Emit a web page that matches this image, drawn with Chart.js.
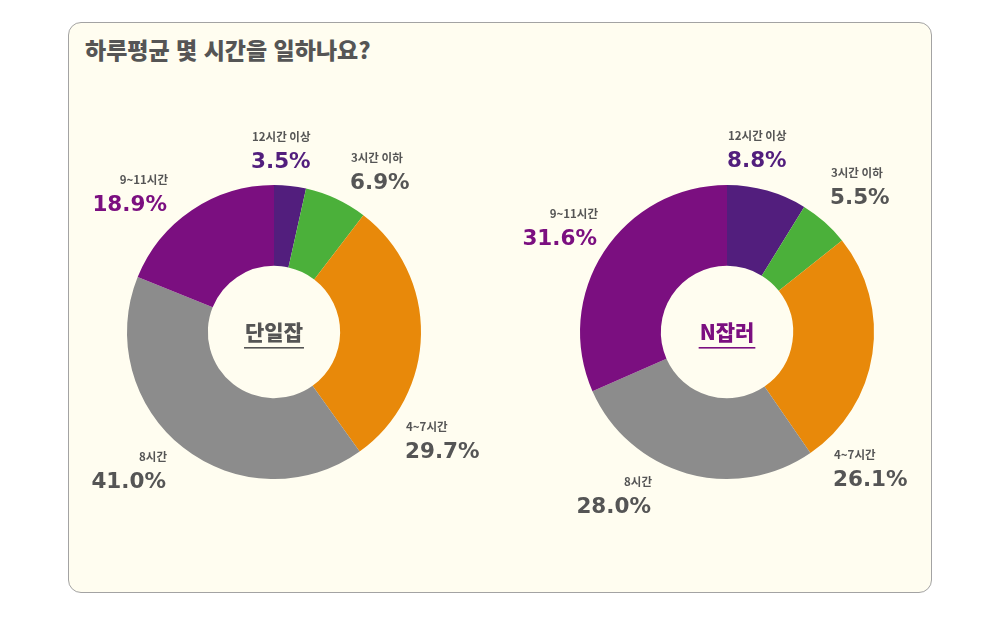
<!DOCTYPE html>
<html lang="ko">
<head>
<meta charset="utf-8">
<script src="https://cdn.jsdelivr.net/npm/chart.js@4"></script>
<style>
  html, body { margin: 0; padding: 0; background: #fff; }
  body { width: 1000px; height: 621px; position: relative; overflow: hidden; font-family: "Noto Sans CJK KR", sans-serif; }
  .card {
    position: absolute; left: 68px; top: 22px; width: 862px; height: 569px;
    background: #fffdf0; border: 1.5px solid #a3a3a3; border-radius: 13px;
  }
  .title {
    position: absolute; left: 85px; top: 32px; margin: 0;
    font: 900 23px "Noto Sans CJK KR", sans-serif; color: #555; letter-spacing: 0px;
  }
  canvas { position: absolute; left: 0; top: 0; }
</style>
</head>
<body>
<div class="card"></div>
<h1 class="title">하루평균 몇 시간을 일하나요?</h1>
<canvas id="single" width="1000" height="621"></canvas>
<canvas id="multi" width="1000" height="621"></canvas>
<script>
const categories = ['12시간 이상', '3시간 이하', '4~7시간', '8시간', '9~11시간'];
const singleJob = [3.5, 6.9, 29.7, 41.0, 18.9];
const multiJob = [8.8, 5.5, 26.1, 28.0, 31.6];

const sliceColors = ['#521e7d', '#4bb03a', '#e8890a', '#8c8c8c', '#7b0f80'];
const valueColors = ['#521e7d', '#555555', '#555555', '#555555', '#7b0f80'];

// label anchors, px from the doughnut centre
const singleLabelPos = [[-23, -170], [76, -149], [131, 120], [-108, 150], [-107, -127]];
const multiLabelPos = [[0, -171], [103, -134], [106, 148], [-76, 175], [-130, -93]];

const outsideLabels = {
  id: 'outsideLabels',
  afterDraw(chart, args, opts) {
    const ctx = chart.ctx;
    const arcs = chart.getDatasetMeta(0).data;
    const cx = arcs[0].x, cy = arcs[0].y;
    ctx.save();
    arcs.forEach((arc, i) => {
      const mid = (arc.startAngle + arc.endAngle) / 2;
      const rightSide = Math.cos(mid) > 0;
      const [dx, dy] = opts.positions[i];
      const x = cx + dx, y = cy + dy;
      ctx.textAlign = rightSide ? 'left' : 'right';
      ctx.textBaseline = 'middle';
      ctx.fillStyle = '#555';
      ctx.font = '700 11.5px "Noto Sans CJK KR", sans-serif';
      ctx.fillText(categories[i], x + 1, y - 25);
      ctx.fillStyle = valueColors[i];
      ctx.font = '700 21.5px "DejaVu Sans", sans-serif';
      ctx.fillText(chart.data.datasets[0].data[i].toFixed(1) + '%', x, y);
    });
    // centre title with underline
    ctx.textAlign = 'center';
    ctx.textBaseline = 'middle';
    ctx.fillStyle = opts.centerColor;
    ctx.font = '900 21px "Noto Sans CJK KR", sans-serif';
    ctx.fillText(opts.centerText, cx, cy);
    const w = ctx.measureText(opts.centerText).width;
    ctx.fillRect(cx - w / 2 - 1, cy + 15, w + 2, 1.6);
    ctx.restore();
  }
};

function makeDonut(id, values, padLeft, padRight, labelPos, centerText, centerColor) {
  return new Chart(document.getElementById(id), {
    type: 'doughnut',
    data: {
      labels: categories,
      datasets: [{
        data: values,
        backgroundColor: sliceColors,
        borderWidth: 0,
      }]
    },
    options: {
      responsive: false,
      animation: false,
      cutout: '45%',
      events: [],
      layout: { padding: { left: padLeft, right: padRight, top: 185, bottom: 142 } },
      plugins: {
        legend: { display: false },
        tooltip: { enabled: false },
        outsideLabels: { positions: labelPos, centerText: centerText, centerColor: centerColor },
      },
    },
    plugins: [outsideLabels],
  });
}

makeDonut('single', singleJob, 127, 579, singleLabelPos, '단일잡', '#555555');
makeDonut('multi', multiJob, 580, 126, multiLabelPos, 'N잡러', '#7b0f80');
</script>
</body>
</html>
